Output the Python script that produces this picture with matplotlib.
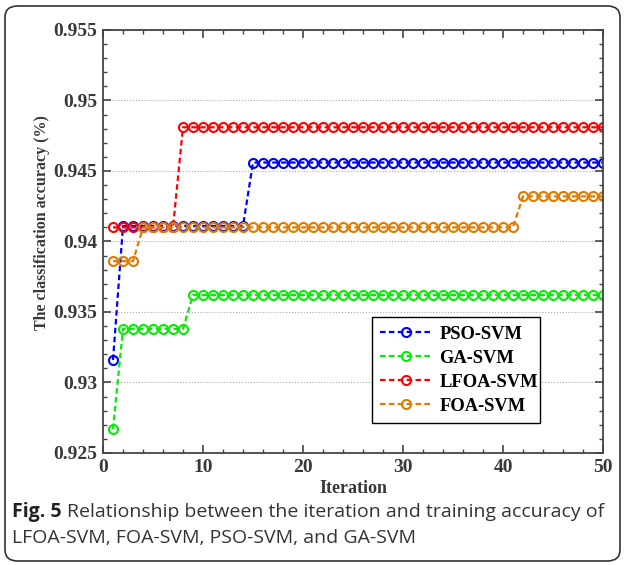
import matplotlib
matplotlib.use("Agg")
import matplotlib.pyplot as plt
from matplotlib.patches import FancyBboxPatch
from matplotlib.ticker import MultipleLocator, FuncFormatter

iterations = list(range(1, 51))
pso = [0.9316] + [0.9411] * 13 + [0.9456] * 36
ga = [0.9267] + [0.9338] * 7 + [0.9362] * 42
lfoa = [0.9410] * 7 + [0.9481] * 43
foa = [0.9386] * 3 + [0.9410] * 38 + [0.9432] * 9

series = [
    ("PSO-SVM", pso, "#0000ff"),
    ("GA-SVM", ga, "#00ee00"),
    ("LFOA-SVM", lfoa, "#ff0000"),
    ("FOA-SVM", foa, "#e07b00"),
]

serif = "Liberation Serif"
grey = "#444444"

fig = plt.figure(figsize=(6.25, 5.65), dpi=100)
ax = fig.add_axes([103 / 625, 1 - 453 / 565, 500 / 625, 423 / 565])

for name, vals, col in series:
    ax.plot(iterations, vals, linestyle=(0, (2.5, 1.5)), color=col, lw=1.6,
            marker="o", markersize=6.5, markerfacecolor="none",
            markeredgewidth=1.5, label=name)

ax.set_xlim(0, 50)
ax.set_ylim(0.925, 0.955)
ax.xaxis.set_major_locator(MultipleLocator(10))
ax.xaxis.set_minor_locator(MultipleLocator(2))
ax.yaxis.set_major_locator(MultipleLocator(0.005))
ax.yaxis.set_minor_locator(MultipleLocator(0.001))
ax.yaxis.set_major_formatter(FuncFormatter(lambda v, p: f"{v:.3f}".rstrip("0")))
ax.tick_params(which="both", direction="in", top=True, right=True, color=grey,
               labelcolor="#383838")
ax.tick_params(which="major", length=6, width=1.2, pad=4)
ax.tick_params(which="minor", length=3, width=1.0)
for lab in ax.get_xticklabels() + ax.get_yticklabels():
    lab.set_fontfamily(serif)
    lab.set_fontweight("bold")
    lab.set_fontsize(14)
for s in ax.spines.values():
    s.set_color(grey)
    s.set_linewidth(1.3)
ax.grid(axis="y", linestyle=":", color="#aaaaaa", lw=0.8)

ax.set_xlabel("Iteration", fontfamily=serif, fontweight="bold", fontsize=13,
              color="#383838", labelpad=3)
ax.set_ylabel("The classification accuracy (%)", fontfamily=serif, fontweight="bold",
              fontsize=11.5, color="#383838")
ax.yaxis.set_label_coords(-0.105, 0.545)

leg = ax.legend(loc="lower left", bbox_to_anchor=(0.538, 0.071, 0.336, 0.248), mode="expand",
                borderaxespad=0,
                prop={"family": serif, "weight": "bold", "size": 13.3},
                fancybox=False, framealpha=1, edgecolor="black", borderpad=0.45,
                handlelength=2.8, labelspacing=0.38, handletextpad=0.4)
leg.get_frame().set_linewidth(1.0)

fig.text(12 / 625, 1 - 517 / 565, "Fig. 5", fontsize=14, va="baseline", fontweight="bold",
         fontfamily="Open Sans", color="#222222")
fig.text(67 / 625, 1 - 517 / 565, "Relationship between the iteration and training accuracy of",
         fontsize=14, va="baseline", fontfamily="Open Sans", color="#333333")
fig.text(12 / 625, 1 - 543 / 565, "LFOA-SVM, FOA-SVM, PSO-SVM, and GA-SVM",
         fontsize=14, va="baseline", fontfamily="Open Sans", color="#333333")

border = FancyBboxPatch((5 / 625, 4 / 565), 615 / 625, 555 / 565,
                        boxstyle="round,pad=0,rounding_size=0.02",
                        transform=fig.transFigure, fill=False, edgecolor="#333333", lw=1.2)
fig.patches.append(border)

fig.savefig("out.png", dpi=100)
